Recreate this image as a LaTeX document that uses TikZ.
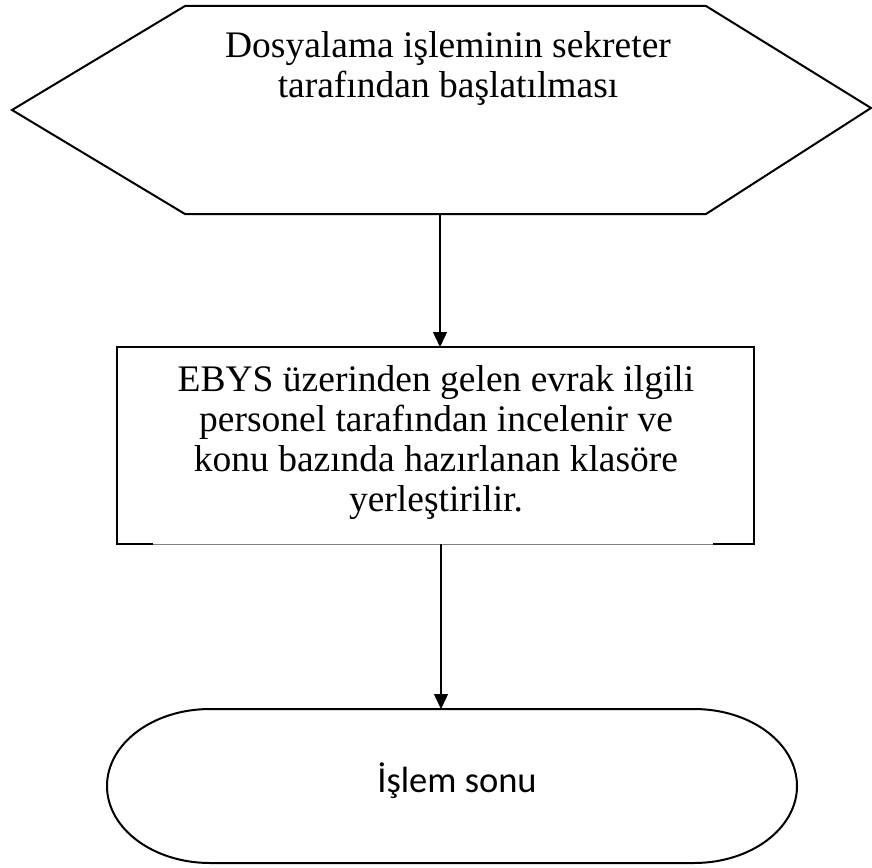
\documentclass[tikz,border=0pt]{standalone}
\usepackage{fontspec}
\setmainfont{Liberation Serif}
\newfontfamily\calib{Carlito}
\usetikzlibrary{arrows.meta}
\begin{document}
\begin{tikzpicture}[x=1pt,y=-1pt,
  shapeline/.style={line width=2pt,line join=miter},
  txt/.style={align=center,font=\fontsize{37.5}{40}\selectfont,inner sep=0pt},
  conn/.style={line width=1.4pt,-{Triangle[length=15pt,width=14pt]}}]
\useasboundingbox (0,0) rectangle (872,867);
% hexagon
\coordinate (hl) at (12,110);
\coordinate (htl) at (185,6);
\coordinate (htr) at (706,6);
\coordinate (hr) at (871,108);
\coordinate (hbr) at (706,214);
\coordinate (hbl) at (185,214);
\draw[shapeline] (hl) -- (htl) -- (htr) -- (hr) -- (hbr) -- (hbl) -- cycle;
\node[txt] (hex) at (448,68) {Dosyalama işleminin sekreter\\tarafından başlatılması};
\coordinate (hexbot) at (440,214);
% rectangle
\node[inner sep=0pt,minimum width=637pt,minimum height=197pt] (rect) at (435.5,445.5) {};
\node[txt] (recttext) at (436,443) {EBYS üzerinden gelen evrak ilgili\\personel tarafından incelenir ve\\konu bazında hazırlanan klasöre\\yerleştirilir.};
\draw[line width=2.5pt] (153,544) -| (rect.north west) -- (rect.north east) |- (713,544);
\draw[line width=1pt,gray] (153,544) -- (713,544);
\coordinate (recttop) at (440,347);
\coordinate (rectbot) at (441,544);
% terminal
\draw[line width=2pt] (210,709) -- (694,709) arc[start angle=-90,end angle=90,x radius=103,y radius=77]
  -- (210,863) arc[start angle=90,end angle=270,x radius=103,y radius=77] -- cycle;
\node[font=\calib\fontsize{36.5}{40}\selectfont,inner sep=0pt,anchor=base] (term) at (457,792) {İşlem sonu};
\coordinate (termtop) at (441,709);
% connectors
\draw[conn] (hexbot) -- (recttop);
\draw[conn] (rectbot) -- (termtop);
\end{tikzpicture}
\end{document}
